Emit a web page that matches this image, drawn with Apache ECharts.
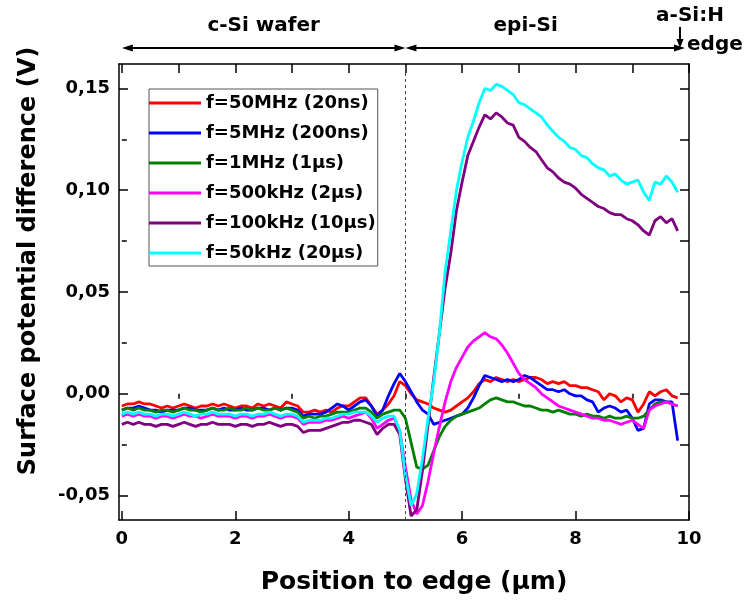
<!DOCTYPE html>
<html>
<head>
<meta charset="utf-8">
<script src="https://cdn.jsdelivr.net/npm/echarts@6/dist/echarts.min.js"></script>
<style>
  html, body { margin: 0; padding: 0; background: #fff; }
  #chart { width: 754px; height: 606px; }
</style>
</head>
<body>
<div id="chart"></div>
<script>
// position to edge (µm)
const positions = [
  0.0, 0.1, 0.2, 0.3, 0.4, 0.5, 0.6, 0.7, 0.8, 0.9,
  1.0, 1.1, 1.2, 1.3, 1.4, 1.5, 1.6, 1.7, 1.8, 1.9,
  2.0, 2.1, 2.2, 2.3, 2.4, 2.5, 2.6, 2.7, 2.8, 2.9,
  3.0, 3.1, 3.2, 3.3, 3.4, 3.5, 3.6, 3.7, 3.8, 3.9,
  4.0, 4.1, 4.2, 4.3, 4.4, 4.5, 4.6, 4.7, 4.8, 4.9,
  5.0, 5.1, 5.2, 5.3, 5.4, 5.5, 5.6, 5.7, 5.8, 5.9,
  6.0, 6.1, 6.2, 6.3, 6.4, 6.5, 6.6, 6.7, 6.8, 6.9,
  7.0, 7.1, 7.2, 7.3, 7.4, 7.5, 7.6, 7.7, 7.8, 7.9,
  8.0, 8.1, 8.2, 8.3, 8.4, 8.5, 8.6, 8.7, 8.8, 8.9,
  9.0, 9.1, 9.2, 9.3, 9.4, 9.5, 9.6, 9.7, 9.8
];

// surface potential difference (V)
const f50MHz = [
  -0.006, -0.005, -0.005, -0.004, -0.005, -0.005, -0.006, -0.007, -0.006, -0.007,
  -0.006, -0.005, -0.006, -0.007, -0.006, -0.006, -0.005, -0.006, -0.005, -0.006,
  -0.007, -0.006, -0.006, -0.007, -0.005, -0.006, -0.005, -0.006, -0.007, -0.004,
  -0.005, -0.006, -0.009, -0.009, -0.008, -0.009, -0.008, -0.009, -0.007, -0.006,
  -0.006, -0.004, -0.002, -0.002, -0.006, -0.010, -0.008, -0.005, -0.001, 0.006,
  0.004, 0.000, -0.003, -0.004, -0.005, -0.007, -0.008, -0.009, -0.008, -0.006,
  -0.004, -0.002, 0.001, 0.005, 0.007, 0.006, 0.008, 0.007, 0.006, 0.007,
  0.006, 0.007, 0.008, 0.008, 0.007, 0.005, 0.006, 0.005, 0.006, 0.004,
  0.004, 0.003, 0.003, 0.002, 0.001, -0.003, 0.000, -0.001, -0.004, -0.002,
  -0.003, -0.009, -0.005, 0.001, -0.001, 0.001, 0.002, -0.001, -0.002
];
const f5MHz = [
  -0.008, -0.007, -0.007, -0.006, -0.007, -0.008, -0.008, -0.009, -0.008, -0.008,
  -0.008, -0.007, -0.007, -0.008, -0.008, -0.008, -0.007, -0.008, -0.007, -0.008,
  -0.008, -0.007, -0.008, -0.008, -0.007, -0.007, -0.008, -0.007, -0.008, -0.007,
  -0.007, -0.008, -0.011, -0.010, -0.010, -0.010, -0.009, -0.007, -0.005, -0.006,
  -0.008, -0.006, -0.004, -0.003, -0.006, -0.011, -0.008, -0.001, 0.005, 0.010,
  0.006, 0.001, -0.004, -0.008, -0.010, -0.015, -0.014, -0.013, -0.012, -0.011,
  -0.010, -0.007, -0.002, 0.004, 0.009, 0.008, 0.007, 0.006, 0.007, 0.006,
  0.007, 0.009, 0.008, 0.006, 0.004, 0.002, 0.002, 0.001, 0.002, 0.000,
  -0.001, -0.001, -0.003, -0.004, -0.009, -0.007, -0.006, -0.007, -0.009, -0.008,
  -0.012, -0.018, -0.017, -0.005, -0.003, -0.003, -0.004, -0.004, -0.023
];
const f1MHz = [
  -0.008, -0.007, -0.008, -0.007, -0.008, -0.008, -0.009, -0.008, -0.008, -0.009,
  -0.008, -0.007, -0.008, -0.008, -0.009, -0.008, -0.007, -0.008, -0.008, -0.007,
  -0.008, -0.008, -0.007, -0.008, -0.007, -0.008, -0.008, -0.007, -0.008, -0.007,
  -0.008, -0.009, -0.012, -0.011, -0.012, -0.011, -0.011, -0.010, -0.009, -0.009,
  -0.009, -0.008, -0.007, -0.007, -0.009, -0.012, -0.010, -0.009, -0.008, -0.008,
  -0.012, -0.024, -0.036, -0.037, -0.035, -0.028, -0.021, -0.016, -0.013, -0.011,
  -0.010, -0.009, -0.008, -0.007, -0.005, -0.003, -0.002, -0.003, -0.004, -0.004,
  -0.005, -0.006, -0.006, -0.007, -0.008, -0.008, -0.009, -0.008, -0.009, -0.010,
  -0.010, -0.011, -0.010, -0.011, -0.011, -0.012, -0.011, -0.012, -0.012, -0.011,
  -0.012, -0.012, -0.011, -0.008, -0.005, -0.004, -0.004, -0.005, -0.006
];
const f500kHz = [
  -0.011, -0.010, -0.011, -0.010, -0.011, -0.011, -0.012, -0.011, -0.011, -0.012,
  -0.011, -0.010, -0.011, -0.011, -0.012, -0.011, -0.010, -0.011, -0.011, -0.011,
  -0.012, -0.011, -0.011, -0.012, -0.011, -0.011, -0.010, -0.011, -0.012, -0.011,
  -0.011, -0.012, -0.015, -0.014, -0.014, -0.014, -0.013, -0.013, -0.012, -0.011,
  -0.012, -0.011, -0.010, -0.009, -0.012, -0.017, -0.015, -0.013, -0.012, -0.018,
  -0.036, -0.052, -0.059, -0.055, -0.043, -0.029, -0.016, -0.004, 0.006, 0.013,
  0.018, 0.023, 0.026, 0.028, 0.030, 0.028, 0.027, 0.024, 0.020, 0.015,
  0.010, 0.007, 0.005, 0.003, 0.000, -0.002, -0.004, -0.006, -0.007, -0.008,
  -0.009, -0.010, -0.011, -0.012, -0.012, -0.013, -0.013, -0.014, -0.015, -0.014,
  -0.013, -0.015, -0.017, -0.008, -0.006, -0.005, -0.004, -0.005, -0.006
];
const f100kHz = [
  -0.015, -0.014, -0.015, -0.014, -0.015, -0.015, -0.016, -0.015, -0.015, -0.016,
  -0.015, -0.014, -0.015, -0.016, -0.015, -0.015, -0.014, -0.015, -0.015, -0.015,
  -0.016, -0.015, -0.015, -0.016, -0.015, -0.015, -0.014, -0.015, -0.016, -0.015,
  -0.015, -0.016, -0.019, -0.018, -0.018, -0.018, -0.017, -0.016, -0.015, -0.014,
  -0.014, -0.013, -0.013, -0.014, -0.015, -0.020, -0.017, -0.015, -0.015, -0.020,
  -0.042, -0.060, -0.057, -0.038, -0.015, 0.008, 0.030, 0.052, 0.069, 0.090,
  0.104, 0.117, 0.124, 0.131, 0.137, 0.135, 0.138, 0.136, 0.133, 0.132,
  0.126, 0.124, 0.121, 0.119, 0.115, 0.111, 0.109, 0.106, 0.104, 0.103,
  0.101, 0.098, 0.096, 0.094, 0.092, 0.091, 0.089, 0.088, 0.088, 0.086,
  0.085, 0.083, 0.080, 0.078, 0.085, 0.087, 0.084, 0.086, 0.080
];
const f50kHz = [
  -0.010, -0.009, -0.010, -0.009, -0.010, -0.010, -0.011, -0.010, -0.010, -0.011,
  -0.010, -0.009, -0.010, -0.011, -0.010, -0.010, -0.009, -0.010, -0.010, -0.010,
  -0.011, -0.010, -0.010, -0.011, -0.010, -0.010, -0.009, -0.010, -0.011, -0.010,
  -0.010, -0.011, -0.014, -0.013, -0.013, -0.013, -0.012, -0.012, -0.011, -0.010,
  -0.010, -0.009, -0.009, -0.009, -0.011, -0.014, -0.012, -0.011, -0.011, -0.018,
  -0.040, -0.055, -0.049, -0.032, -0.012, 0.006, 0.030, 0.060, 0.080, 0.100,
  0.114, 0.126, 0.134, 0.143, 0.150, 0.149, 0.152, 0.151, 0.149, 0.147,
  0.143, 0.142, 0.140, 0.138, 0.136, 0.132, 0.129, 0.126, 0.124, 0.121,
  0.120, 0.117, 0.116, 0.113, 0.111, 0.110, 0.107, 0.108, 0.105, 0.103,
  0.104, 0.105, 0.099, 0.095, 0.104, 0.103, 0.107, 0.104, 0.099
];

const seriesNames = [
  "f=50MHz (20ns)",
  "f=5MHz (200ns)",
  "f=1MHz (1μs)",
  "f=500kHz (2μs)",
  "f=100kHz (10μs)",
  "f=50kHz (20μs)",
];
const seriesValues = [f50MHz, f5MHz, f1MHz, f500kHz, f100kHz, f50kHz];
const seriesColors = ["#ff0000", "#0000ff", "#008000", "#ff00ff", "#800080", "#00ffff"];

const xMajorTicks = [0, 2, 4, 6, 8, 10];
const xMinorTicks = [1, 3, 5, 7, 9];
const xTopTicks = [0, 1, 2, 3, 4, 5, 6, 7, 8, 9, 10];
const yMajorTicks = [-0.05, 0, 0.05, 0.1, 0.15];
const yMinorTicks = [-0.025, 0.025, 0.075, 0.125];
const yRightTicks = [-0.05, -0.025, 0, 0.025, 0.05, 0.075, 0.1, 0.125, 0.15];

const FONT = "DejaVu Sans";
const X_MIN = -0.05, X_MAX = 10;
const Y_MIN = -0.062, Y_MAX = 0.162;

let chart = echarts.init(document.getElementById("chart"));

function frameAxis(extra) {
  return Object.assign({
    type: "value",
    splitLine: { show: false },
    axisLine: { show: true, onZero: false, lineStyle: { color: "#000", width: 1.5 } },
    axisLabel: { show: false },
  }, extra);
}

const labelStyle = { color: "#000", fontFamily: FONT, fontWeight: "bold", fontSize: 18 };

const options = {
  backgroundColor: "#fff",
  animation: false,
  grid: { left: 119, right: 65, top: 64, bottom: 86 },
  legend: {
    orient: "vertical",
    left: 149,
    top: 89,
    icon: "rect",
    itemWidth: 52,
    itemHeight: 3,
    itemGap: 8,
    padding: [3, 2, 2, 0],
    borderColor: "#555",
    borderWidth: 1,
    backgroundColor: "#fff",
    textStyle: Object.assign({ lineHeight: 22 }, labelStyle),
    data: seriesNames,
  },
  xAxis: [
    frameAxis({
      position: "bottom", min: X_MIN, max: X_MAX,
      axisTick: { show: true, inside: true, length: 9, customValues: xMajorTicks, lineStyle: { color: "#000", width: 1.5 } },
      axisLabel: Object.assign({ show: true, margin: 10, customValues: xMajorTicks, formatter: (v) => String(v) }, labelStyle),
      name: "Position to edge (μm)",
      nameLocation: "middle",
      nameGap: 50,
      nameTextStyle: { color: "#000", fontFamily: FONT, fontWeight: "bold", fontSize: 25, padding: [0, 0, 0, 20] },
    }),
    frameAxis({
      position: "bottom", min: X_MIN, max: X_MAX,
      axisLine: { show: false },
      axisTick: { show: true, inside: false, length: 5, customValues: xMinorTicks, lineStyle: { color: "#000", width: 1.5 } },
    }),
    frameAxis({
      position: "top", min: X_MIN, max: X_MAX,
      axisTick: { show: true, inside: true, length: 9, customValues: xTopTicks, lineStyle: { color: "#000", width: 1.5 } },
    }),
  ],
  yAxis: [
    frameAxis({
      position: "left", min: Y_MIN, max: Y_MAX,
      axisTick: { show: true, inside: true, length: 9, customValues: yMajorTicks, lineStyle: { color: "#000", width: 1.5 } },
      axisLabel: Object.assign({
        show: true, margin: 9, customValues: yMajorTicks,
        formatter: (v) => v.toFixed(2).replace(".", ","),
      }, labelStyle),
    }),
    frameAxis({
      position: "left", min: Y_MIN, max: Y_MAX,
      axisLine: { show: false },
      axisTick: { show: true, inside: true, length: 5, customValues: yMinorTicks, lineStyle: { color: "#000", width: 1.5 } },
    }),
    frameAxis({
      position: "right", min: Y_MIN, max: Y_MAX,
      axisTick: { show: true, inside: true, length: 9, customValues: yRightTicks, lineStyle: { color: "#000", width: 1.5 } },
    }),
  ],
  series: seriesNames.map((name, i) => ({
    name: name,
    type: "line",
    xAxisIndex: 0,
    yAxisIndex: 0,
    showSymbol: false,
    symbol: "none",
    color: seriesColors[i],
    lineStyle: { color: seriesColors[i], width: 2.8 },
    data: positions.map((x, j) => [x, seriesValues[i][j]]),
    markLine: i === 0 ? {
      silent: true,
      symbol: "none",
      label: { show: false },
      lineStyle: { color: "#444", width: 1, type: [3, 3] },
      data: [{ xAxis: 5 }],
    } : undefined,
  })),
};

chart.setOption(options);

// annotations above the frame, anchored on the x axis
function px(x) {
  return chart.convertToPixel({ xAxisIndex: 0 }, x);
}
function head(tipX, tipY, dir) {
  // dir: 1 points right, -1 left, 2 points down
  if (dir === 2) {
    return [[tipX, tipY], [tipX - 3.5, tipY - 9], [tipX + 3.5, tipY - 9]];
  }
  return [[tipX, tipY], [tipX - dir * 11, tipY - 3.5], [tipX - dir * 11, tipY + 3.5]];
}

const arrowY = 48;
const x0 = px(0), x5 = px(5), x10 = px(10);
const black = { fill: "#000" };
const textStyle = { fill: "#000", fontFamily: FONT, fontWeight: "bold", fontSize: 20 };

chart.setOption({
  graphic: [
    { type: "line", shape: { x1: x0 + 4, y1: arrowY, x2: x5 - 4, y2: arrowY }, style: { stroke: "#000", lineWidth: 2 } },
    { type: "line", shape: { x1: x5 + 4, y1: arrowY, x2: x10 - 8, y2: arrowY }, style: { stroke: "#000", lineWidth: 2 } },
    { type: "polygon", shape: { points: head(x0, arrowY, -1) }, style: black },
    { type: "polygon", shape: { points: head(x5, arrowY, 1) }, style: black },
    { type: "polygon", shape: { points: head(x5, arrowY, -1) }, style: black },
    { type: "polygon", shape: { points: head(x10 - 4, arrowY, 1) }, style: black },
    { type: "line", shape: { x1: x10 - 9, y1: 27, x2: x10 - 9, y2: 42 }, style: { stroke: "#000", lineWidth: 2 } },
    { type: "polygon", shape: { points: head(x10 - 9, 48, 2) }, style: black },
    { type: "text", x: px(2.5), y: 26, style: Object.assign({ text: "c-Si wafer", align: "center", verticalAlign: "middle" }, textStyle) },
    { type: "text", x: px(7.12), y: 26, style: Object.assign({ text: "epi-Si", align: "center", verticalAlign: "middle" }, textStyle) },
    { type: "text", x: x10 + 1, y: 16, style: Object.assign({ text: "a-Si:H", align: "center", verticalAlign: "middle" }, textStyle) },
    { type: "text", x: x10 - 2, y: 45, style: Object.assign({ text: "edge", align: "left", verticalAlign: "middle" }, textStyle) },
    {
      type: "text", x: 29, y: 261, rotation: Math.PI / 2,
      style: Object.assign({ text: "Surface potential difference (V)", align: "center", verticalAlign: "middle" }, textStyle, { fontSize: 24 }),
    },
  ],
});
</script>
</body>
</html>
